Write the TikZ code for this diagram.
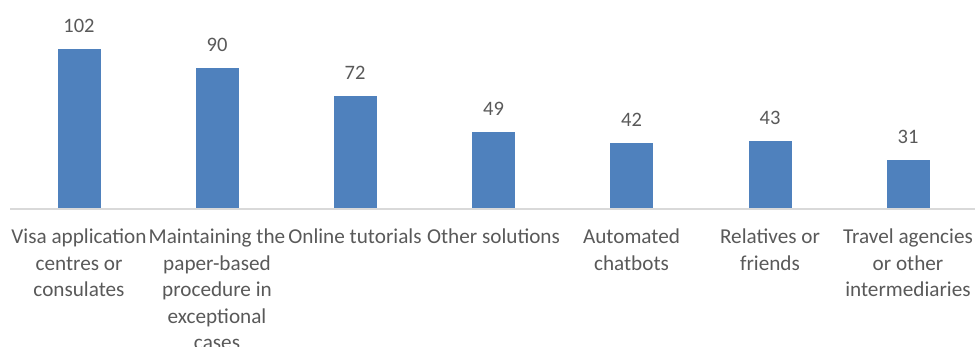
\documentclass[tikz,border=0pt]{standalone}
\usepackage{fontspec}
\setmainfont{Carlito}
\usetikzlibrary{positioning}
\usepackage{xcolor}
\definecolor{barblue}{HTML}{4F81BD}
\definecolor{labelgray}{HTML}{595959}
\definecolor{axisgray}{HTML}{D9D9D9}

\begin{document}
\begin{tikzpicture}[x=1pt, y=1pt, node distance=16pt and 0pt]
                % Styles
                \tikzstyle{bar} = [rectangle, anchor=south, minimum width=43pt, inner sep=0pt, fill=barblue, draw=none]
                \tikzstyle{value} = [inner sep=0pt, text=labelgray, font=\fontsize{20.5}{24}\selectfont]
                \tikzstyle{category} = [inner sep=0pt, text=labelgray, align=center, font=\fontsize{21.2}{26.5}\selectfont]
                \tikzstyle{axis} = [draw=axisgray, line width=2pt]
                \useasboundingbox (0,-138) rectangle (975,209);

                % Bars
                \node (visa) [bar, minimum height=159.7pt] at (79,0) {};
                \node (paper) [bar, minimum height=140.9pt] at (217,0) {};
                \node (tutorials) [bar, minimum height=112.8pt] at (355,0) {};
                \node (other) [bar, minimum height=76.7pt] at (493.5,0) {};
                \node (chatbots) [bar, minimum height=65.8pt] at (631.5,0) {};
                \node (relatives) [bar, minimum height=67.3pt] at (770,0) {};
                \node (agencies) [bar, minimum height=48.5pt] at (908,0) {};

                % Values
                \node (visaval) [value, above=of visa] {102};
                \node (paperval) [value, above=of paper] {90};
                \node (tutorialsval) [value, above=of tutorials] {72};
                \node (otherval) [value, above=of other] {49};
                \node (chatbotsval) [value, above=of chatbots] {42};
                \node (relativesval) [value, above=of relatives] {43};
                \node (agenciesval) [value, above=of agencies] {31};

                % Axis
                \coordinate (axisleft) at (10,0);
                \coordinate (axisright) at (975,0);
                \draw [axis] (axisleft) -- (axisright);

                % Categories
                \node (visacat) [category, below=20pt of visa] {Visa application\\centres or\\consulates};
                \node (papercat) [category, below=20pt of paper] {Maintaining the\\paper-based\\procedure in\\exceptional\\cases};
                \node (tutorialscat) [category, below=20pt of tutorials] {Online tutorials};
                \node (othercat) [category, below=20pt of other] {Other solutions};
                \node (chatbotscat) [category, below=20pt of chatbots] {Automated\\chatbots};
                \node (relativescat) [category, below=20pt of relatives] {Relatives or\\friends};
                \node (agenciescat) [category, below=20pt of agencies] {Travel agencies\\or other\\intermediaries};

            \end{tikzpicture}
\end{document}
